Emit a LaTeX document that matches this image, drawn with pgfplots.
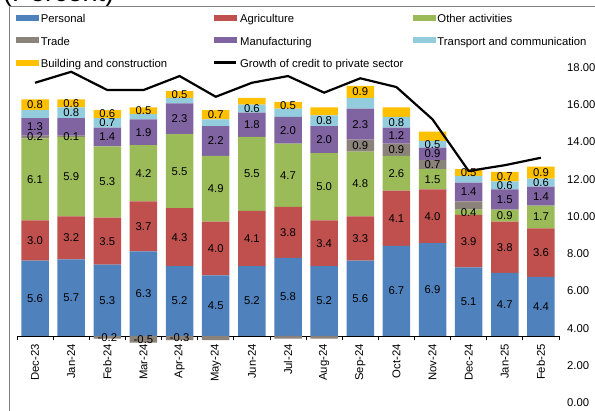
\documentclass[border=0pt]{standalone}
\usepackage{pgfplots}
\pgfplotsset{compat=1.18}
\usepackage{pgfplotstable}
\usepackage{fontspec}
\setmainfont{Liberation Sans}
\newcommand{\lab}{\fontsize{11.3}{13.5}\selectfont}
\definecolor{cP}{HTML}{4F81BD}
\definecolor{cA}{HTML}{C0504D}
\definecolor{cO}{HTML}{9BBB59}
\definecolor{cT}{HTML}{8B8279}
\definecolor{cM}{HTML}{8064A2}
\definecolor{cR}{HTML}{93CDDD}
\definecolor{cB}{HTML}{FFC000}
\definecolor{frame}{HTML}{808080}

% P personal, A agriculture, O other, T trade, M manufacturing, R transport, B building
% sX = 1 where the data label is shown
\pgfplotstableread{
x P A O T M R B sT sM sR sB
0 5.6 3.0 6.1 0.2 1.3 0.6 0.8 1 1 0 1
1 5.7 3.2 5.9 0.1 1.3 0.8 0.6 1 0 1 1
2 5.3 3.5 5.3 -0.2 1.4 0.7 0.6 1 1 1 1
3 6.3 3.7 4.2 -0.5 1.9 0.4 0.5 1 1 0 1
4 5.2 4.3 5.5 -0.3 2.3 0.4 0.5 1 1 0 1
5 4.5 4.0 4.9 -0.3 2.2 0.5 0.7 0 1 0 1
6 5.2 4.1 5.5 0.0 1.8 0.6 0.5 0 1 1 0
7 5.8 3.8 4.7 -0.2 2.0 0.6 0.5 0 1 0 1
8 5.2 3.4 5.0 -0.2 2.0 0.8 0.6 0 1 1 0
9 5.6 3.3 4.8 0.9 2.3 0.8 0.9 1 1 0 1
10 6.7 4.1 2.6 0.9 1.2 0.8 0.7 1 1 1 0
11 6.9 4.0 1.5 0.7 0.9 0.5 0.7 1 1 1 0
12 5.1 3.9 0.4 0.6 1.4 0.5 0.5 0 1 0 1
13 4.7 3.8 0.9 0.0 1.5 0.6 0.7 0 1 1 1
14 4.4 3.6 1.7 0.0 1.4 0.6 0.9 0 1 1 1
}\bars

\pgfplotstableread{
x G
0 17.17
1 17.76
2 16.78
3 16.78
4 17.53
5 16.42
6 17.17
7 17.53
8 16.64
9 17.41
10 16.94
11 15.21
12 12.44
13 12.75
14 13.15
}\credit

\pgfplotsset{
  lbl/.style={draw=none, mark=none, point meta=explicit,
    nodes near coords={\pgfmathprintnumber[fixed,fixed zerofill,precision=1,assume math mode=true]{\pgfplotspointmeta}},
    every node near coord/.append style={font=\lab, inner sep=0pt, anchor=center, text=black},
    restrict y to domain=-4:30},
  geom/.style={at={(17pt,75pt)}, anchor=south west, scale only axis,
    width=542pt, height=269pt, xmin=-0.5, xmax=14.5, ymin=0, ymax=20}
}

\begin{document}
\begin{tikzpicture}
\useasboundingbox (0pt,0pt) rectangle (595pt,411pt);
\node[anchor=base west, inner sep=0pt, font=\fontsize{27}{30}\selectfont] at (3pt,409pt) {(Percent)};
\draw[color=frame, line width=1pt] (9pt,-2pt) -- (9pt,404.5pt) -- (600pt,404.5pt);

% stacked bars
\begin{axis}[geom, ybar stacked, bar width=27.5pt, clip=false,
  axis y line=none, ytick=\empty, axis x line*=bottom,
  x axis line style={black, line width=0.8pt, -},
  xtick={0,...,14},
  xticklabels={Dec-23,Jan-24,Feb-24,Mar-24,Apr-24,May-24,Jun-24,Jul-24,Aug-24,Sep-24,Oct-24,Nov-24,Dec-24,Jan-25,Feb-25},
  xticklabel style={rotate=90, anchor=east, inner sep=0pt, font=\lab},
  xticklabel shift=8pt,
  major tick length=0pt,
  extra x ticks={-0.5,0.5,...,14.5}, extra x tick labels={},
  extra x tick style={major tick length=4.5pt, tick align=outside, tick style={black, line width=0.8pt}},
]
\addplot[fill=cP, draw=none] table[x=x, y=P] {\bars};
\addplot[fill=cA, draw=none] table[x=x, y=A] {\bars};
\addplot[fill=cO, draw=none] table[x=x, y=O] {\bars};
\addplot[fill=cT, draw=none] table[x=x, y expr={max(\thisrow{T},0)}] {\bars};
\addplot[fill=cM, draw=none] table[x=x, y=M] {\bars};
\addplot[fill=cR, draw=none] table[x=x, y=R] {\bars};
\addplot[fill=cB, draw=none] table[x=x, y=B] {\bars};
\end{axis}

% negative trade bars and data labels
\begin{axis}[geom, hide axis, clip=false]
\addplot[ybar, bar width=27.5pt, fill=cT, draw=none] table[x=x, y expr={min(\thisrow{T},0)}] {\bars};
\addplot[lbl] table[x=x, y expr={\thisrow{P}/2}, meta=P] {\bars};
\addplot[lbl] table[x=x, y expr={\thisrow{P}+\thisrow{A}/2}, meta=A] {\bars};
\addplot[lbl] table[x=x, y expr={\thisrow{P}+\thisrow{A}+\thisrow{O}/2}, meta=O] {\bars};
\addplot[lbl] table[x=x, y expr={ifthenelse(\thisrow{sT}>0, ifthenelse(\thisrow{T}<0, \thisrow{T}/2, \thisrow{P}+\thisrow{A}+\thisrow{O}+\thisrow{T}/2), -100)}, meta=T] {\bars};
\addplot[lbl] table[x=x, y expr={ifthenelse(\thisrow{sM}>0, \thisrow{P}+\thisrow{A}+\thisrow{O}+max(\thisrow{T},0)+\thisrow{M}/2, -100)}, meta=M] {\bars};
\addplot[lbl] table[x=x, y expr={ifthenelse(\thisrow{sR}>0, \thisrow{P}+\thisrow{A}+\thisrow{O}+max(\thisrow{T},0)+\thisrow{M}+\thisrow{R}/2, -100)}, meta=R] {\bars};
\addplot[lbl] table[x=x, y expr={ifthenelse(\thisrow{sB}>0, \thisrow{P}+\thisrow{A}+\thisrow{O}+max(\thisrow{T},0)+\thisrow{M}+\thisrow{R}+\thisrow{B}/2, -100)}, meta=B] {\bars};
\end{axis}

% credit growth line, right axis, legend
\begin{axis}[at={(17pt,8pt)}, anchor=south west, scale only axis,
  width=542pt, height=335.7pt, xmin=-0.5, xmax=14.5, ymin=0, ymax=18,
  clip=false,
  axis x line=none, xtick=\empty,
  axis y line*=right, y axis line style={draw=none},
  ytick={0,2,...,18}, major tick length=0pt,
  /pgf/number format/assume math mode=true,
  yticklabel={\pgfmathprintnumber[fixed,fixed zerofill,precision=2]{\tick}},
  yticklabel style={font=\lab, anchor=west, inner sep=0pt, xshift=8pt},
  legend columns=3,
  legend style={at={(axis description cs:-0.00185,1.1603)}, anchor=north west,
    draw=none, fill=none, inner sep=0pt, outer sep=0pt, font=\lab,
    row sep=11.5pt, column sep=0pt, nodes={inner sep=0pt},
    /tikz/every odd column/.append style={column sep=2.5pt}},
]
\addlegendimage{legend image code/.code={\fill[cP] (0pt,-1.2pt) rectangle (22pt,3.8pt);}}
\addlegendentry{\makebox[172.5pt][l]{\strut Personal}}
\addlegendimage{legend image code/.code={\fill[cA] (0pt,-1.2pt) rectangle (22pt,3.8pt);}}
\addlegendentry{\makebox[172.5pt][l]{\strut Agriculture}}
\addlegendimage{legend image code/.code={\fill[cO] (0pt,-1.2pt) rectangle (22pt,3.8pt);}}
\addlegendentry{\makebox[172.5pt][l]{\strut Other activities}}
\addlegendimage{legend image code/.code={\fill[cT] (0pt,-1.2pt) rectangle (22pt,3.8pt);}}
\addlegendentry{\makebox[172.5pt][l]{\strut Trade}}
\addlegendimage{legend image code/.code={\fill[cM] (0pt,-1.2pt) rectangle (22pt,3.8pt);}}
\addlegendentry{\makebox[172.5pt][l]{\strut Manufacturing}}
\addlegendimage{legend image code/.code={\fill[cR] (0pt,-1.2pt) rectangle (22pt,3.8pt);}}
\addlegendentry{\makebox[172.5pt][l]{\strut Transport and communication}}
\addlegendimage{legend image code/.code={\fill[cB] (0pt,-1.2pt) rectangle (22pt,3.8pt);}}
\addlegendentry{\makebox[172.5pt][l]{\strut Building and construction}}
\addplot[black, line width=2.2pt, mark=none,
  legend image code/.code={\draw[black, line width=2.2pt] (0pt,1.3pt) -- (22pt,1.3pt);}]
  table[x=x, y=G] {\credit};
\addlegendentry{\makebox[172.5pt][l]{\strut Growth of credit to private sector}}
\end{axis}
\end{tikzpicture}
\end{document}
